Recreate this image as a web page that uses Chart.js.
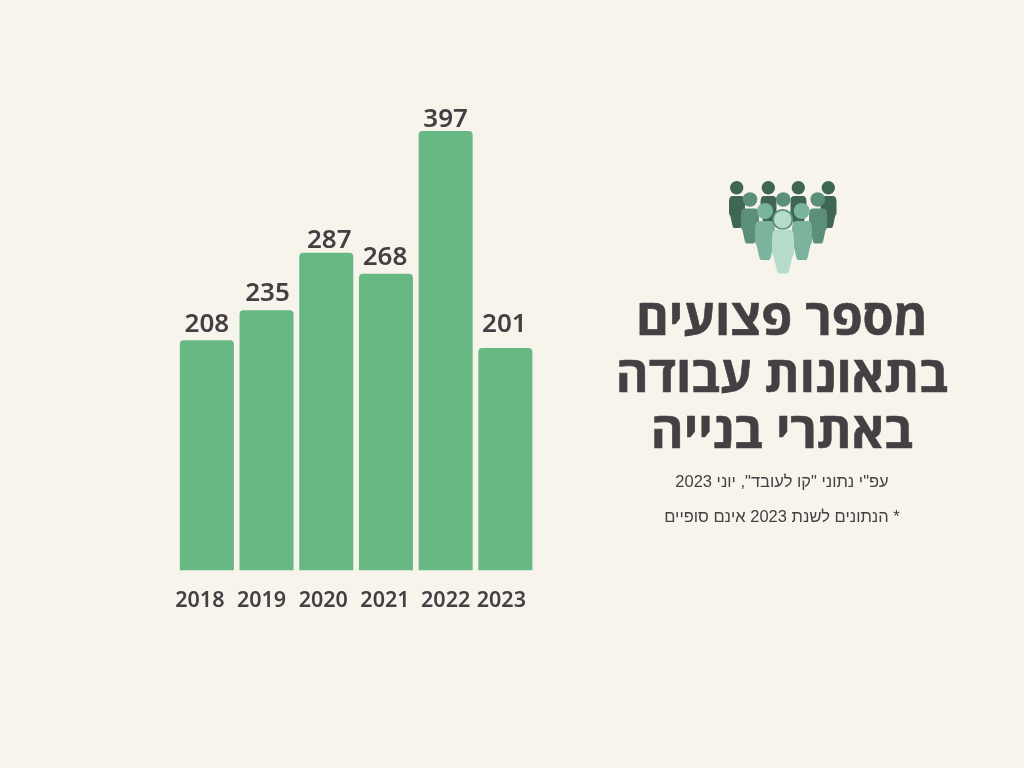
<!DOCTYPE html>
<html lang="he">
<head>
<meta charset="utf-8">
<title>מספר פצועים בתאונות עבודה באתרי בנייה</title>
<script src="https://cdn.jsdelivr.net/npm/chart.js@4"></script>
<style>
  html, body { margin: 0; padding: 0; background: #f7f4ec; }
  #page { position: relative; width: 1024px; height: 768px; overflow: hidden; background: #f7f4ec; }
  #chart { position: absolute; left: 0; top: 0; }
  #icon { position: absolute; left: 700px; top: 170px; }
  .txt { position: absolute; left: 582px; width: 400px; text-align: center; color: #453f43; white-space: nowrap; }
  h1.txt { margin: 0; top: 288px; font: 700 50px/56.5px "Open Sans", sans-serif; -webkit-text-stroke: 0.6px #453f43; }
  .sub { font: 400 16.5px/20px "Liberation Sans", sans-serif; }
</style>
</head>
<body>
<div id="page">
  <canvas id="chart" width="1024" height="768"></canvas>

  <svg id="icon" width="160" height="110" viewBox="700 170 160 110">
    <defs>
      <path id="body" d="M20,0 H80 Q100,0 100,20 V52 Q100,58 92,62 L78,94 Q75,100 68,100 H32 Q25,100 22,94 L8,62 Q0,58 0,52 V20 Q0,0 20,0 Z"/>
    </defs>
    <!-- back row -->
    <g fill="#3f6553">
      <circle cx="736.7" cy="187.7" r="6.7"/><use href="#body" transform="translate(729 196) scale(.16 .32)"/>
      <circle cx="828.3" cy="187.7" r="6.7"/><use href="#body" transform="translate(820.5 196) scale(.16 .32)"/>
      <circle cx="768.3" cy="187.7" r="6.7"/><use href="#body" transform="translate(760.5 196) scale(.16 .32)"/>
      <circle cx="798.3" cy="187.7" r="6.7"/><use href="#body" transform="translate(790.5 196) scale(.16 .32)"/>
    </g>
    <!-- second row -->
    <g fill="#5c8f7a">
      <circle cx="750" cy="199.5" r="7.3"/><use href="#body" transform="translate(741 208.5) scale(.18 .35)"/>
      <circle cx="817.7" cy="199.5" r="7.3"/><use href="#body" transform="translate(809 208.5) scale(.18 .35)"/>
      <circle cx="783.3" cy="199.5" r="7.3"/>
    </g>
    <!-- third row -->
    <g fill="#7bb39c">
      <circle cx="765" cy="211" r="8"/><use href="#body" transform="translate(755 221) scale(.2 .39)"/>
      <circle cx="801.7" cy="211" r="8"/><use href="#body" transform="translate(792 221) scale(.2 .39)"/>
    </g>
    <!-- front figure -->
    <circle cx="782.7" cy="219.5" r="10.5" fill="#5c8f7a"/>
    <circle cx="782.7" cy="219.5" r="8.8" fill="#b5dccb"/>
    <use href="#body" transform="translate(772 229.5) scale(.22 .44)" fill="#b5dccb"/>
  </svg>

  <h1 class="txt" dir="rtl">מספר פצועים<br>בתאונות עבודה<br>באתרי בנייה</h1>
  <div class="txt sub" dir="rtl" style="top:471px">עפ"י נתוני "קו לעובד", יוני 2023</div>
  <div class="txt sub" dir="rtl" style="top:506px">* הנתונים לשנת 2023 אינם סופיים</div>
</div>

<script>
const years = ["2018", "2019", "2020", "2021", "2022", "2023"];
const injured = [208, 235, 287, 268, 397, 201];

const barColor = "#68b884";
const textColor = "#453f43";
const labelFont = '600 26px "Noto Sans", sans-serif';
const tickFont = '600 21.5px "Noto Sans", sans-serif';

// labels in the picture are not quite centred over their bars
const valueNudgeX = [0, 1, 3, -1, 0, -1];
const valueGap = [8, 9, 5, 9, 4, 16];
const yearNudgeX = [-7, -5, -3, -1, 0, -4];

const barLabels = {
  id: "barLabels",
  afterDatasetsDraw(chart) {
    const ctx = chart.ctx;
    const bars = chart.getDatasetMeta(0).data;
    const xScale = chart.scales.x;
    ctx.save();
    ctx.fillStyle = textColor;
    ctx.textAlign = "center";
    ctx.textBaseline = "alphabetic";
    bars.forEach((bar, i) => {
      ctx.font = labelFont;
      ctx.fillText(injured[i], bar.x + valueNudgeX[i], bar.y - valueGap[i]);
      ctx.font = tickFont;
      ctx.fillText(years[i], xScale.getPixelForTick(i) + yearNudgeX[i], 606.5);
    });
    ctx.restore();
  },
};

new Chart(document.getElementById("chart"), {
  type: "bar",
  data: {
    labels: years,
    datasets: [
      {
        label: "מספר פצועים",
        data: injured,
        backgroundColor: barColor,
        categoryPercentage: 1,
        barPercentage: 0.905,
        borderRadius: { topLeft: 4, topRight: 4, bottomLeft: 0, bottomRight: 0 },
        borderSkipped: false,
      },
    ],
  },
  options: {
    responsive: false,
    animation: false,
    layout: { padding: { left: 177, right: 488.8, top: 127.7, bottom: 197.5 } },
    plugins: {
      legend: { display: false },
      tooltip: { enabled: false },
    },
    scales: {
      x: { display: false },
      y: { display: false, min: 0, max: 400 },
    },
  },
  plugins: [barLabels],
});
</script>
</body>
</html>
